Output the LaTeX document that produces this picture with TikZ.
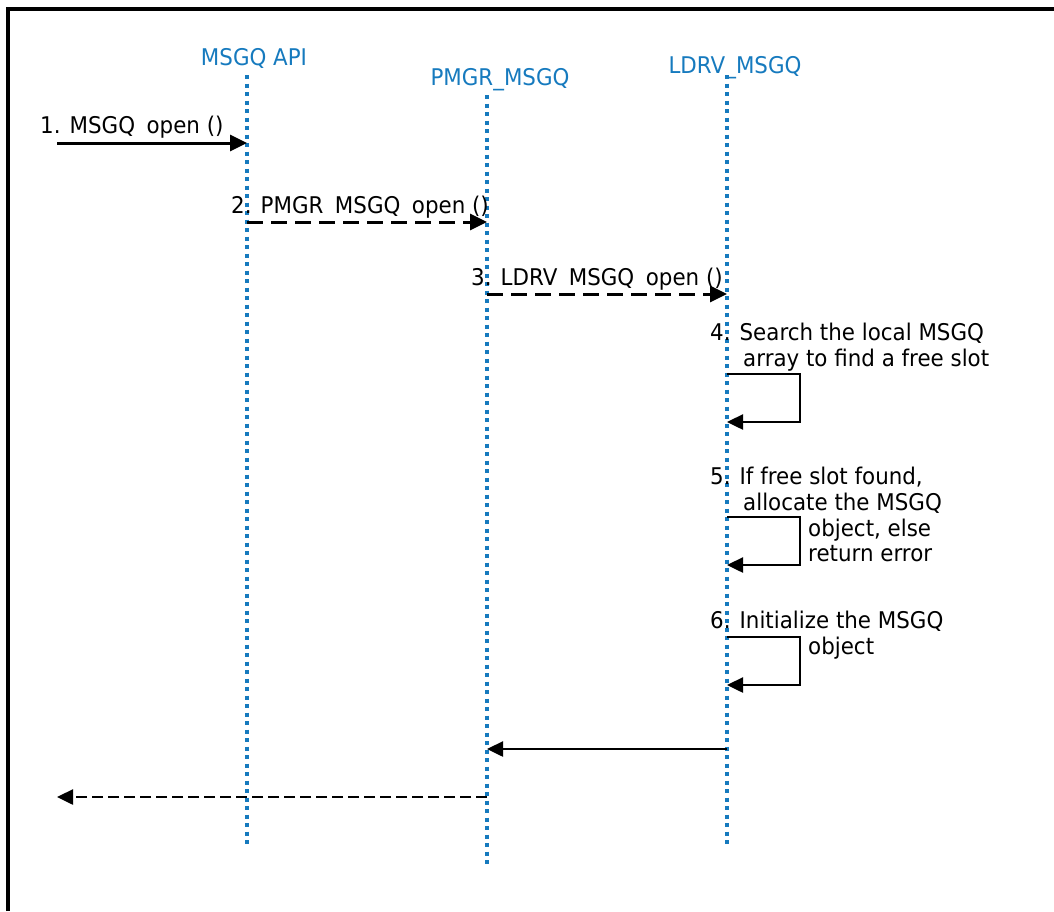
\documentclass[tikz,border=0pt]{standalone}
\usepackage{fontspec}
\setmainfont{DejaVu Sans}[FakeStretch=0.93]
\usetikzlibrary{arrows.meta}
\definecolor{lifeblue}{RGB}{22,122,190}
\newcommand{\gapu}{\hspace{0.5em}}
\begin{document}
\begin{tikzpicture}[x=1pt,y=-1pt,
  head/.style={text=lifeblue,font=\fontsize{23}{27}\selectfont,inner sep=0pt,anchor=base},
  lbl/.style={font=\fontsize{23}{27}\selectfont,inner sep=0pt,anchor=base west},
  life/.style={lifeblue,line width=3.5pt,dash pattern=on 4pt off 4.5pt},
  msg/.style={line width=3pt,-{Triangle[length=17pt,width=16pt]}},
  dmsg/.style={msg,dash pattern=on 16pt off 8pt},
  ret/.style={line width=2.5pt,-{Triangle[length=16pt,width=15pt]}},
  dret/.style={ret,dash pattern=on 11pt off 5pt},
  selfloop/.style={line width=2.5pt,-{Triangle[length=16pt,width=15pt]}}]
\useasboundingbox (0,0) rectangle (1054,911);
% frame
\draw[line width=3.5pt] (8,911) -- (8,9) -- (1054,9);
% headers
\node[head] (hA) at (254,65) {MSGQ API};
\node[head] (hP) at (500,85) {PMGR\_MSGQ};
\node[head] (hL) at (735,73) {LDRV\_MSGQ};
% lifelines
\coordinate (aT) at (247,75);  \coordinate (aB) at (247,845);
\coordinate (pT) at (487,95);  \coordinate (pB) at (487,866);
\coordinate (lT) at (727,75);  \coordinate (lB) at (727,845);
\draw[life] (aT) -- (aB);
\draw[life] (pT) -- (pB);
\draw[life] (lT) -- (lB);
% message 1
\coordinate (m1s) at (57,143); \coordinate (m1e) at (247,143);
\draw[msg] (m1s) -- (m1e);
\node[lbl] (t1) at (40,133) {1. MSGQ\gapu open ()};
% message 2
\coordinate (m2s) at (247,222); \coordinate (m2e) at (487,222);
\draw[dmsg] (m2s) -- (m2e);
\node[lbl] (t2) at (231,213) {2. PMGR\gapu MSGQ\gapu open ()};
% message 3
\coordinate (m3s) at (487,294); \coordinate (m3e) at (727,294);
\draw[dmsg] (m3s) -- (m3e);
\node[lbl] (t3) at (471,285) {3. LDRV\gapu MSGQ\gapu open ()};
% self message 4
\coordinate (s4a) at (727,374); \coordinate (s4b) at (800,374);
\coordinate (s4c) at (800,422); \coordinate (s4d) at (727,422);
\draw[selfloop] (s4a) -- (s4b) -- (s4c) -- (s4d);
\node[lbl] (t4a) at (710,340) {4. Search the local MSGQ};
\node[lbl] (t4b) at (743,366) {array to find a free slot};
% self message 5
\coordinate (s5a) at (727,517); \coordinate (s5b) at (800,517);
\coordinate (s5c) at (800,565); \coordinate (s5d) at (727,565);
\draw[selfloop] (s5a) -- (s5b) -- (s5c) -- (s5d);
\node[lbl] (t5a) at (710,484) {5. If free slot found,};
\node[lbl] (t5b) at (743,510) {allocate the MSGQ};
\node[lbl] (t5c) at (808,536) {object, else};
\node[lbl] (t5d) at (808,561) {return error};
% self message 6
\coordinate (s6a) at (727,637); \coordinate (s6b) at (800,637);
\coordinate (s6c) at (800,685); \coordinate (s6d) at (727,685);
\draw[selfloop] (s6a) -- (s6b) -- (s6c) -- (s6d);
\node[lbl] (t6a) at (710,628) {6. Initialize the MSGQ};
\node[lbl] (t6b) at (808,654) {object};
% returns
\coordinate (r1s) at (727,749); \coordinate (r1e) at (487,749);
\draw[ret] (r1s) -- (r1e);
\coordinate (r2s) at (487,797); \coordinate (r2e) at (57,797);
\draw[dret] (r2s) -- (r2e);
\end{tikzpicture}
\end{document}
